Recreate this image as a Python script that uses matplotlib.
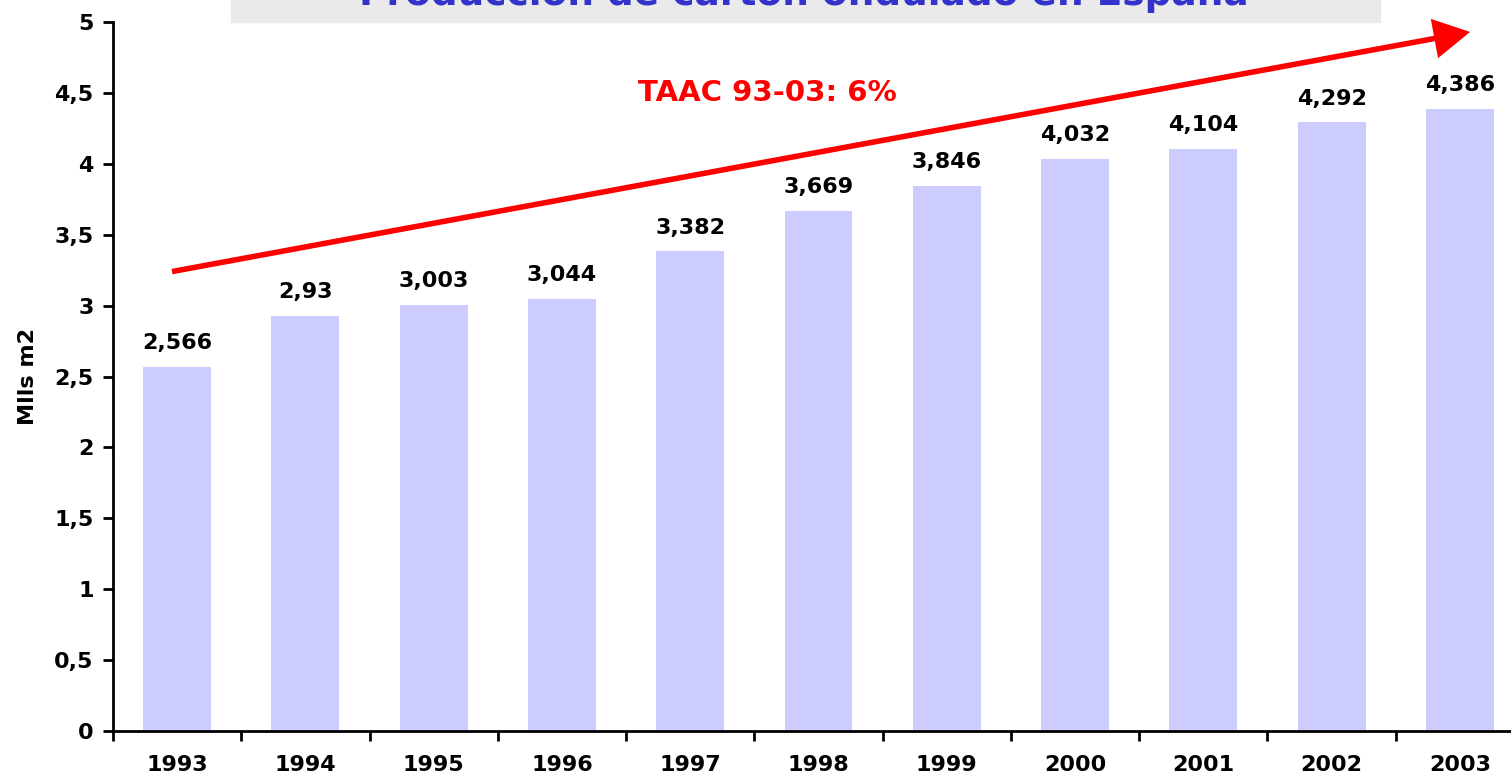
import numpy as np
import matplotlib.pyplot as plt
from matplotlib.patches import Rectangle

years = ['1993', '1994', '1995', '1996', '1997', '1998', '1999', '2000', '2001', '2002', '2003']
produccion = [2.566, 2.93, 3.003, 3.044, 3.382, 3.669, 3.846, 4.032, 4.104, 4.292, 4.386]
etiquetas = ['2,566', '2,93', '3,003', '3,044', '3,382', '3,669', '3,846', '4,032', '4,104', '4,292', '4,386']
yticks = [0, 0.5, 1, 1.5, 2, 2.5, 3, 3.5, 4, 4.5, 5]
ytick_labels = ['0', '0,5', '1', '1,5', '2', '2,5', '3', '3,5', '4', '4,5', '5']

W, H = 1511, 783
fig = plt.figure(figsize=(W / 100, H / 100), dpi=100)
ax = fig.add_axes([113 / W, 52 / H, 1411 / W, 709 / H])

x = np.arange(len(years))
ax.bar(x, produccion, width=0.53, color='#CCCCFF')

for xi, v, lab in zip(x, produccion, etiquetas):
    ax.annotate(lab, (xi, v), xytext=(0, 10), textcoords='offset points',
                ha='center', va='bottom', fontsize=16, fontweight='bold')

ax.set_xlim(-0.5, len(years) - 0.5)
ax.set_ylim(0, 5)
ax.set_yticks(yticks)
ax.set_yticklabels(ytick_labels, fontsize=16, fontweight='bold')
ax.set_xticks(x)
ax.set_xticklabels(years, fontsize=16, fontweight='bold')
ax.set_xticks(np.arange(len(years) + 1) - 0.5, minor=True)
ax.tick_params(axis='x', which='major', length=0, pad=17)
ax.tick_params(axis='x', which='minor', length=7, width=2, direction='out')
ax.tick_params(axis='y', length=7, width=2, direction='out', pad=7)

for s in ['top', 'right']:
    ax.spines[s].set_visible(False)
for s in ['left', 'bottom']:
    ax.spines[s].set_linewidth(2)

ax.set_ylabel('Mlls m2', fontsize=16, fontweight='bold', labelpad=12)

# flecha de tendencia
ax.annotate('', xy=(10.08, 4.93), xytext=(-0.04, 3.24),
            arrowprops=dict(arrowstyle='-|>,head_length=2.0,head_width=1.1',
                            mutation_scale=10, color='#FF0000', lw=4,
                            joinstyle='miter', capstyle='butt',
                            shrinkA=0, shrinkB=0))
ax.text(4.6, 4.5, 'TAAC 93-03: 6%', color='#FF0000', fontsize=21,
        fontweight='bold', ha='center', va='center')

# título (recortado en la parte superior)
fig.patches.append(Rectangle((231 / W, 1 - 22 / H), (1380 - 231) / W, 30 / H,
                             transform=fig.transFigure, color='#EAEAEA', zorder=0))
fig.text(804 / W, 1 - 5 / H, 'Producción de cartón ondulado en España',
         color='#3333CC', fontsize=27, fontweight='bold', ha='center', va='baseline')

fig.savefig('out.png', dpi=100)
